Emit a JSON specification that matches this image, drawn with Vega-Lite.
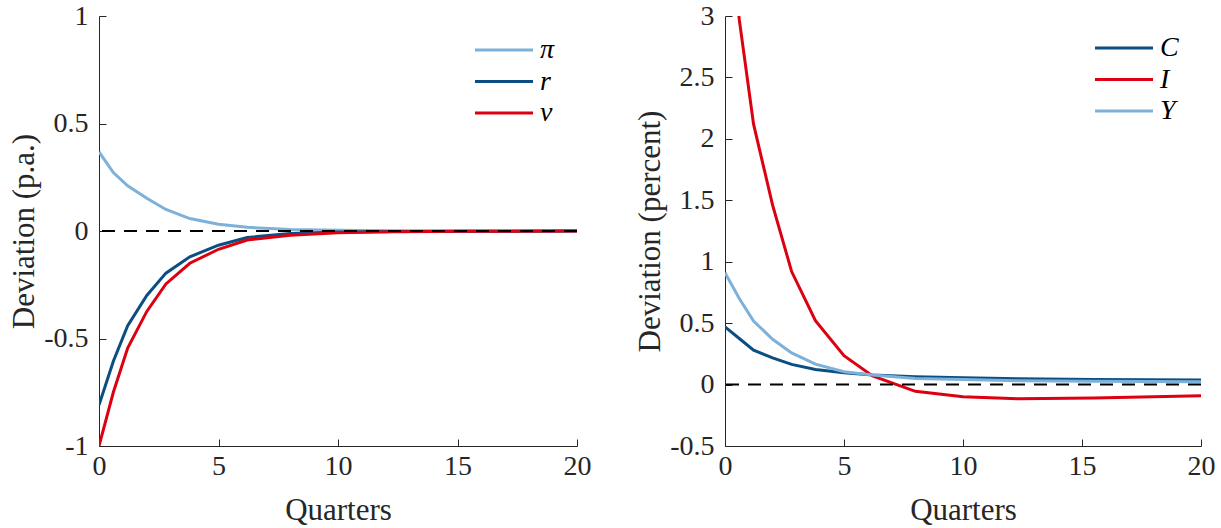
{
  "$schema": "https://vega.github.io/schema/vega-lite/v6.json",
  "background": "white",
  "padding": {"left": 8, "top": 2, "right": 5, "bottom": 0},
  "spacing": 43,
  "config": {
    "view": {"stroke": null},
    "font": "Liberation Serif",
    "axis": {
      "grid": false,
      "domainColor": "#262626",
      "domainWidth": 1,
      "tickColor": "#262626",
      "tickSize": -7,
      "tickWidth": 1,
      "labelFont": "Liberation Serif",
      "labelFontSize": 28,
      "labelColor": "#262626",
      "labelFlush": false,
      "labelOverlap": false,
      "titleFont": "Liberation Serif",
      "titleFontSize": 31,
      "titleFontWeight": "normal",
      "titleColor": "#262626"
    },
    "axisX": {"labelPadding": 13, "titlePadding": 15},
    "axisY": {"labelPadding": 18, "titlePadding": 3},
    "legend": {
      "title": null,
      "symbolType": "M-4.8,0H1",
      "symbolSize": 400,
      "symbolStrokeWidth": 3,
      "labelFont": "Liberation Serif",
      "labelFontStyle": "italic",
      "labelFontSize": 28,
      "labelColor": "black",
      "labelOffset": 3,
      "rowPadding": 3.5
    }
  },
  "datasets": {
    "left": [
      {"q": 0, "value": 0.368, "series": "π"},
      {"q": 0.6, "value": 0.272, "series": "π"},
      {"q": 1.2, "value": 0.21, "series": "π"},
      {"q": 2.0, "value": 0.152, "series": "π"},
      {"q": 2.8, "value": 0.1, "series": "π"},
      {"q": 3.8, "value": 0.058, "series": "π"},
      {"q": 5.0, "value": 0.031, "series": "π"},
      {"q": 6.2, "value": 0.017, "series": "π"},
      {"q": 8.0, "value": 0.007, "series": "π"},
      {"q": 10.0, "value": 0.003, "series": "π"},
      {"q": 12.3, "value": 0.001, "series": "π"},
      {"q": 15.5, "value": 0.0003, "series": "π"},
      {"q": 20, "value": 0, "series": "π"},
      {"q": 0, "value": -0.81, "series": "r"},
      {"q": 0.6, "value": -0.606, "series": "r"},
      {"q": 1.2, "value": -0.44, "series": "r"},
      {"q": 2.0, "value": -0.3, "series": "r"},
      {"q": 2.8, "value": -0.196, "series": "r"},
      {"q": 3.8, "value": -0.12, "series": "r"},
      {"q": 5.0, "value": -0.066, "series": "r"},
      {"q": 6.2, "value": -0.03, "series": "r"},
      {"q": 8.0, "value": -0.012, "series": "r"},
      {"q": 10.0, "value": -0.005, "series": "r"},
      {"q": 12.3, "value": -0.002, "series": "r"},
      {"q": 15.5, "value": -0.001, "series": "r"},
      {"q": 20, "value": 0, "series": "r"},
      {"q": 0, "value": -1.0, "series": "v"},
      {"q": 0.6, "value": -0.75, "series": "v"},
      {"q": 1.2, "value": -0.544, "series": "v"},
      {"q": 2.0, "value": -0.374, "series": "v"},
      {"q": 2.8, "value": -0.246, "series": "v"},
      {"q": 3.8, "value": -0.15, "series": "v"},
      {"q": 5.0, "value": -0.085, "series": "v"},
      {"q": 6.2, "value": -0.042, "series": "v"},
      {"q": 8.0, "value": -0.02, "series": "v"},
      {"q": 10.0, "value": -0.008, "series": "v"},
      {"q": 12.3, "value": -0.003, "series": "v"},
      {"q": 15.5, "value": -0.001, "series": "v"},
      {"q": 20, "value": 0, "series": "v"}
    ],
    "right": [
      {"q": 0, "value": 0.47, "series": "C"},
      {"q": 0.6, "value": 0.375, "series": "C"},
      {"q": 1.2, "value": 0.28, "series": "C"},
      {"q": 2.0, "value": 0.217, "series": "C"},
      {"q": 2.8, "value": 0.164, "series": "C"},
      {"q": 3.8, "value": 0.123, "series": "C"},
      {"q": 5.0, "value": 0.096, "series": "C"},
      {"q": 6.2, "value": 0.077, "series": "C"},
      {"q": 8.0, "value": 0.063, "series": "C"},
      {"q": 10.0, "value": 0.055, "series": "C"},
      {"q": 12.3, "value": 0.047, "series": "C"},
      {"q": 15.5, "value": 0.042, "series": "C"},
      {"q": 20, "value": 0.037, "series": "C"},
      {"q": 0, "value": 4.1, "series": "I"},
      {"q": 0.6, "value": 2.97, "series": "I"},
      {"q": 1.2, "value": 2.12, "series": "I"},
      {"q": 2.0, "value": 1.46, "series": "I"},
      {"q": 2.8, "value": 0.92, "series": "I"},
      {"q": 3.8, "value": 0.52, "series": "I"},
      {"q": 5.0, "value": 0.235, "series": "I"},
      {"q": 6.2, "value": 0.07, "series": "I"},
      {"q": 8.0, "value": -0.055, "series": "I"},
      {"q": 10.0, "value": -0.1, "series": "I"},
      {"q": 12.3, "value": -0.115, "series": "I"},
      {"q": 15.5, "value": -0.11, "series": "I"},
      {"q": 20, "value": -0.09, "series": "I"},
      {"q": 0, "value": 0.91, "series": "Y"},
      {"q": 0.6, "value": 0.7, "series": "Y"},
      {"q": 1.2, "value": 0.517, "series": "Y"},
      {"q": 2.0, "value": 0.369, "series": "Y"},
      {"q": 2.8, "value": 0.258, "series": "Y"},
      {"q": 3.8, "value": 0.166, "series": "Y"},
      {"q": 5.0, "value": 0.104, "series": "Y"},
      {"q": 6.2, "value": 0.077, "series": "Y"},
      {"q": 8.0, "value": 0.05, "series": "Y"},
      {"q": 10.0, "value": 0.042, "series": "Y"},
      {"q": 12.3, "value": 0.032, "series": "Y"},
      {"q": 15.5, "value": 0.028, "series": "Y"},
      {"q": 20, "value": 0.022, "series": "Y"}
    ],
    "zero": [{"z": 0}]
  },
  "hconcat": [
    {
      "width": 478,
      "height": 430,
      "layer": [
        {
          "data": {"name": "left"},
          "mark": {"type": "line", "strokeWidth": 3, "clip": true},
          "encoding": {
            "x": {"field": "q", "type": "quantitative", "scale": {"domain": [0, 20], "nice": false}, "axis": {"title": "Quarters", "values": [0, 5, 10, 15, 20], "labelExpr": "'' + datum.value"}},
            "y": {"field": "value", "type": "quantitative", "scale": {"domain": [-1, 1], "nice": false, "zero": false}, "axis": {"title": "Deviation (p.a.)", "values": [-1, -0.5, 0, 0.5, 1], "labelExpr": "'' + datum.value"}},
            "color": {"field": "series", "type": "nominal", "scale": {"domain": ["π", "r", "v"], "range": ["#7DB1DA", "#0B4F82", "#DC0010"]}, "legend": {"orient": "none", "legendX": 410, "legendY": 20}}
          }
        },
        {
          "data": {"name": "zero"},
          "mark": {"type": "rule", "strokeDash": [13, 9], "strokeWidth": 2, "color": "black"},
          "encoding": {"y": {"field": "z", "type": "quantitative"}}
        }
      ]
    },
    {
      "width": 476,
      "height": 430,
      "layer": [
        {
          "data": {"name": "right"},
          "mark": {"type": "line", "strokeWidth": 3, "clip": true},
          "encoding": {
            "x": {"field": "q", "type": "quantitative", "scale": {"domain": [0, 20], "nice": false}, "axis": {"title": "Quarters", "values": [0, 5, 10, 15, 20], "labelExpr": "'' + datum.value"}},
            "y": {"field": "value", "type": "quantitative", "scale": {"domain": [-0.5, 3], "nice": false, "zero": false}, "axis": {"title": "Deviation (percent)", "values": [-0.5, 0, 0.5, 1, 1.5, 2, 2.5, 3], "labelExpr": "'' + datum.value"}},
            "color": {"field": "series", "type": "nominal", "scale": {"domain": ["C", "I", "Y"], "range": ["#0B4F82", "#DC0010", "#7DB1DA"]}, "legend": {"orient": "none", "legendX": 404, "legendY": 18}}
          }
        },
        {
          "data": {"name": "zero"},
          "mark": {"type": "rule", "strokeDash": [13, 9], "strokeWidth": 2, "color": "black"},
          "encoding": {"y": {"field": "z", "type": "quantitative"}}
        }
      ]
    }
  ],
  "resolve": {"scale": {"color": "independent"}, "legend": {"color": "independent"}}
}
